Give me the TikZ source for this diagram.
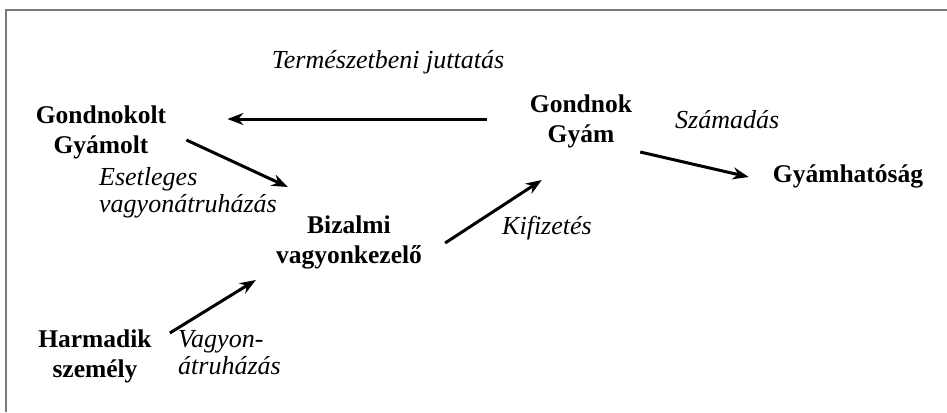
\documentclass[tikz,border=0pt]{standalone}
\usepackage{fontspec}
\setmainfont{Liberation Serif}
\usepackage{tikz}
\usetikzlibrary{arrows.meta}
\definecolor{framegray}{RGB}{120,120,120}

\begin{document}
\begin{tikzpicture}[x=1pt, y=-1pt,
  actor/.style={font=\bfseries\fontsize{25.5}{30}\selectfont, align=center, inner sep=0pt, anchor=base},
  lbl/.style={font=\itshape\fontsize{26}{27}\selectfont, align=left, inner sep=0pt, anchor=base west},
  arr/.style={-{Stealth[length=16pt, width=12pt]}, line width=3pt}]
  \useasboundingbox (0,0) rectangle (947,412);
  \draw[framegray, line width=2pt] (5.5,412) -- (5.5,10.5) -- (947,10.5);
  % actors (base = last line)
  \node[actor] (gondnokolt) at (101,153) {Gondnokolt\\Gyámolt};
  \node[actor] (gondnok)    at (581,142) {Gondnok\\Gyám};
  \node[actor] (bizalmi)    at (349,263) {Bizalmi\\vagyonkezelő};
  \node[actor] (harmadik)   at (95,377)  {Harmadik\\személy};
  \node[actor] (gyamhat)    at (848,182) {Gyámhatóság};
  % labels
  \node[lbl, anchor=base] (juttatas) at (388,68) {Természetbeni juttatás};
  \node[lbl] (esetleges) at (99,212)  {Esetleges\\vagyonátruházás};
  \node[lbl] (kifizetes) at (502,234) {Kifizetés};
  \node[lbl] (vagyon)    at (178,374) {Vagyon-\\átruházás};
  \node[lbl] (szamadas)  at (675,128) {Számadás};
  % arrows
  \draw[arr] ([shift={(-43,-23)}]gondnok.base west) -- ([shift={(61,-34)}]gondnokolt.base east);
  \draw[arr] ([shift={(20,-13)}]gondnokolt.base east) -- ([shift={(12,-76)}]bizalmi.base west);
  \draw[arr] ([shift={(18,-44)}]harmadik.base east) -- ([shift={(-20,17)}]bizalmi.base west);
  \draw[arr] ([shift={(23,-20)}]bizalmi.base east) -- ([shift={(12,38)}]gondnok.base west);
  \draw[arr] ([shift={(8,10)}]gondnok.base east) -- ([shift={(-24,-5)}]gyamhat.base west);
\end{tikzpicture}
\end{document}
